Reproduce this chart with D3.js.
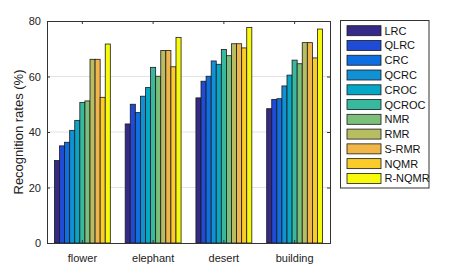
<!DOCTYPE html>
<html><head><meta charset="utf-8">
<script src="https://cdn.jsdelivr.net/npm/d3@7"></script>
<style>body{margin:0;background:#fff}svg{font-family:"Liberation Sans",Arial,sans-serif}</style>
</head><body>
<svg id="c" width="463" height="273"></svg>
<script>
const categories = ["flower","elephant","desert","building"];
const methods = ["LRC","QLRC","CRC","QCRC","CROC","QCROC","NMR","RMR","S-RMR","NQMR","R-NQMR"];
const colors = ["#352a87","#1f4bd6","#0f6ee0","#1290d4","#06a7c6","#38b89d","#7bbf7a","#b9bd62","#f0b64a","#fbcb2a","#f8fa0d"];
const LRC    = [29.7,42.9,52.3,48.4];
const QLRC   = [35.0,50.0,58.3,51.7];
const CRC    = [36.3,47.0,60.1,52.0];
const QCRC   = [40.6,52.9,65.6,56.6];
const CROC   = [44.2,56.0,64.4,60.5];
const QCROC  = [50.6,63.3,69.7,65.9];
const NMR    = [51.2,60.1,67.5,64.6];
const RMR    = [66.2,69.4,71.8,72.2];
const SRMR   = [66.2,69.4,71.8,72.2];
const NQMR   = [52.5,63.5,70.3,66.7];
const RNQMR  = [71.7,74.1,77.7,77.1];
const yTicks = [0,20,40,60,80];
const series = [LRC,QLRC,CRC,QCRC,CROC,QCROC,NMR,RMR,SRMR,NQMR,RNQMR];

const svg = d3.select("#c");
const L=47,R=330,T=21,B=243;
const x = d3.scaleBand().domain(categories).range([L,R]).paddingInner(0).paddingOuter(0);
const y = d3.scaleLinear().domain([0,80]).range([B,T]);
const inner = d3.scaleBand().domain(methods).range([0, x.bandwidth()*0.79]);
const off = (x.bandwidth() - inner.range()[1])/2;

// grid
svg.append("g").selectAll("line").data(yTicks.filter(d=>d>0&&d<80)).join("line")
  .attr("x1",L).attr("x2",R).attr("y1",d=>y(d)).attr("y2",d=>y(d))
  .attr("stroke","#e3e3e3").attr("stroke-width",1);

// bars
categories.forEach((c,ci)=>{
  svg.append("g").selectAll("rect").data(methods).join("rect")
    .attr("x",(m)=>x(c)+off+inner(m))
    .attr("width",inner.bandwidth())
    .attr("y",(m,i)=>y(series[i][ci]))
    .attr("height",(m,i)=>B-y(series[i][ci]))
    .attr("fill",(m,i)=>colors[i])
    .attr("stroke","#1a1a1a").attr("stroke-width",0.8);
});

// axes
const axL = svg.append("g").attr("transform",`translate(${L},0)`)
  .call(d3.axisLeft(y).tickValues(yTicks).tickSize(-3).tickPadding(6));
const axR = svg.append("g").attr("transform",`translate(${R},0)`)
  .call(d3.axisRight(y).tickValues(yTicks).tickSize(-3).tickFormat(""));
const axB = svg.append("g").attr("transform",`translate(0,${B})`)
  .call(d3.axisBottom(x).tickSize(-3).tickPadding(11));
const axT = svg.append("g").attr("transform",`translate(0,${T})`)
  .call(d3.axisTop(x).tickSize(-3).tickFormat(""));
[axL,axR,axB,axT].forEach(a=>{
  a.select(".domain").attr("stroke","#333").attr("stroke-width",1);
  a.selectAll(".tick line").attr("stroke","#333");
  a.selectAll("text").attr("font-size",11).attr("fill","#222").attr("font-family","Liberation Sans,Arial,sans-serif");
});
axB.selectAll(".tick line").attr("y1",0);
svg.append("text").attr("transform",`translate(23,${(T+B)/2}) rotate(-90)`)
  .attr("text-anchor","middle").attr("font-size",13).attr("fill","#222").text("Recognition rates (%)");

// legend
const lg = svg.append("g");
lg.append("rect").attr("x",340.5).attr("y",20.5).attr("width",88.5).attr("height",167.5)
  .attr("fill","#fff").attr("stroke","#333").attr("stroke-width",1);
const ly = d3.scalePoint().domain(methods).range([30.7,178.4]);
lg.selectAll(".sw").data(methods).join("rect").attr("class","sw")
  .attr("x",347).attr("y",m=>ly(m)-5).attr("width",34).attr("height",10)
  .attr("fill",(m,i)=>colors[i]).attr("stroke","#1a1a1a").attr("stroke-width",0.8);
lg.selectAll(".lt").data(methods).join("text").attr("class","lt")
  .attr("x",384.5).attr("y",m=>ly(m)).attr("dy","0.36em")
  .attr("font-size",11).attr("fill","#111").text(m=>m);
</script>
</body></html>
